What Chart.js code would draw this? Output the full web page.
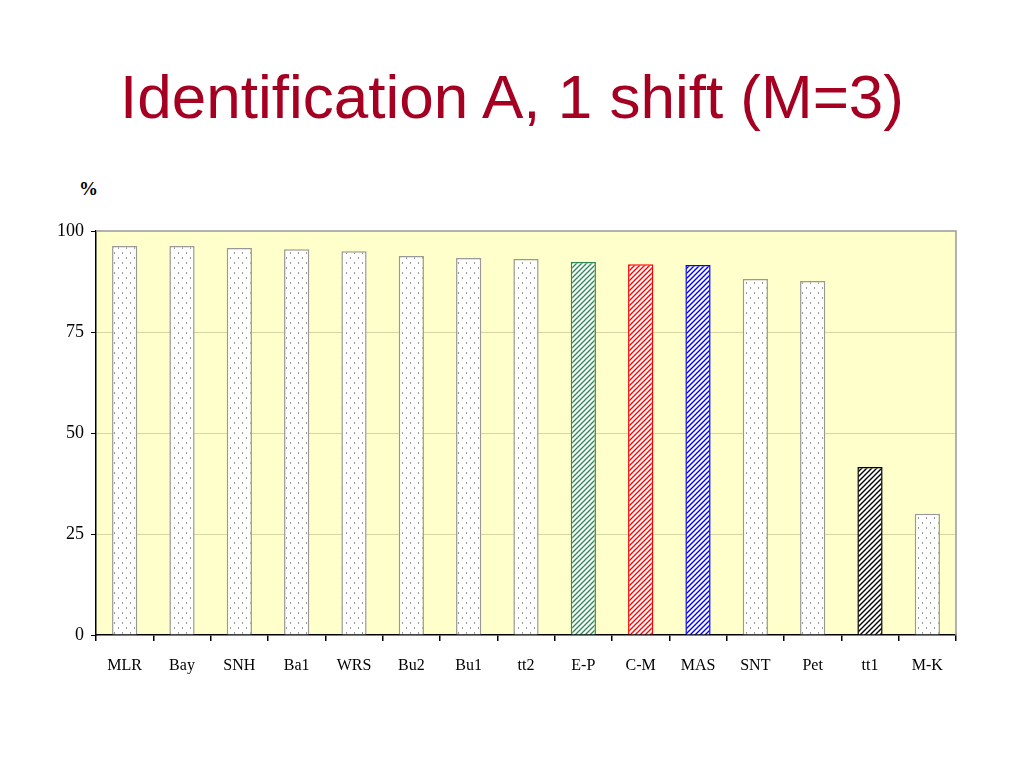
<!DOCTYPE html>
<html>
<head>
<meta charset="utf-8">
<script src="https://cdn.jsdelivr.net/npm/chart.js@4/dist/chart.umd.min.js"></script>
<style>
  body { margin: 0; background: #fff; }
  #wrap { position: relative; width: 1024px; height: 768px; }
  #title { position: absolute; left: 0; top: 66px; width: 1024px; text-align: center;
           font-family: "Liberation Sans", Arial, sans-serif; font-size: 62px; color: #A50021; line-height: 1; }
  #unit { position: absolute; left: 79px; top: 178px; font-family: "Liberation Serif", serif;
          font-size: 19px; font-weight: bold; color: #000; }
  canvas { position: absolute; left: 0; top: 0; }
</style>
</head>
<body>
<div id="wrap">
  <div id="title">Identification A, 1 shift (M=3)</div>
  <div id="unit">%</div>
  <canvas id="chart" width="1024" height="768"></canvas>
</div>
<script>
// Data
const categories = ['MLR', 'Bay', 'SNH', 'Ba1', 'WRS', 'Bu2', 'Bu1', 'tt2', 'E-P', 'C-M', 'MAS', 'SNT', 'Pet', 'tt1', 'M-K'];
const values = [96.3, 96.3, 95.8, 95.5, 95.0, 93.8, 93.3, 93.1, 92.3, 91.8, 91.6, 88.1, 87.6, 41.6, 30.0];
const yTicks = [0, 25, 50, 75, 100];

// Fill style for each bar: 'dots' or a hatch colour
const barStyles = ['dots', 'dots', 'dots', 'dots', 'dots', 'dots', 'dots', 'dots',
    '#2E8B57', '#FF0000', '#0000FF', 'dots', 'dots', '#000000', 'dots'];

// Dotted white fill
function dotPattern() {
    const c = document.createElement('canvas');
    c.width = 8; c.height = 10;
    const g = c.getContext('2d');
    g.fillStyle = '#fff';
    g.fillRect(0, 0, 8, 10);
    g.fillStyle = '#999';
    g.fillRect(2, 2, 1, 2);
    g.fillRect(6, 7, 1, 2);
    return g.createPattern(c, 'repeat');
}

// Diagonal hatch fill
function hatchPattern(color) {
    const c = document.createElement('canvas');
    c.width = 5; c.height = 5;
    const g = c.getContext('2d');
    g.fillStyle = '#fff';
    g.fillRect(0, 0, 5, 5);
    g.strokeStyle = color;
    g.lineWidth = 1.4;
    g.beginPath();
    g.moveTo(-1, 6); g.lineTo(6, -1);
    g.moveTo(-1, 1); g.lineTo(1, -1);
    g.moveTo(4, 6); g.lineTo(6, 4);
    g.stroke();
    return g.createPattern(c, 'repeat');
}

const fills = barStyles.map(s => s === 'dots' ? dotPattern() : hatchPattern(s));
const borders = barStyles.map(s => s === 'dots' ? '#999999' : s);

// Plot background and grey top/right frame
const plotFrame = {
    id: 'plotFrame',
    beforeDraw(chart) {
        const a = chart.chartArea;
        const ctx = chart.ctx;
        ctx.save();
        ctx.fillStyle = '#FFFFCC';
        ctx.fillRect(a.left, a.top, a.right - a.left, a.bottom - a.top);
        ctx.restore();
    },
    beforeDatasetsDraw(chart) {
        const a = chart.chartArea;
        const ctx = chart.ctx;
        ctx.save();
        ctx.strokeStyle = '#999';
        ctx.lineWidth = 1.5;
        ctx.beginPath();
        ctx.moveTo(a.left, a.top);
        ctx.lineTo(a.right, a.top);
        ctx.lineTo(a.right, a.bottom);
        ctx.stroke();
        ctx.restore();
    }
};

const serif = '"Liberation Serif", "Times New Roman", serif';

new Chart(document.getElementById('chart').getContext('2d'), {
    type: 'bar',
    data: {
        labels: categories,
        datasets: [{
            data: values,
            backgroundColor: fills,
            borderColor: borders,
            borderWidth: 1.5,
            barPercentage: 0.44,
            categoryPercentage: 1
        }]
    },
    options: {
        responsive: false,
        animation: false,
        layout: { padding: { left: 0, right: 68, top: 231, bottom: 0 } },
        plugins: { legend: { display: false }, tooltip: { enabled: false } },
        scales: {
            x: {
                grid: { offset: true, drawOnChartArea: false, color: '#000', tickLength: 6, lineWidth: 1.5 },
                border: { color: '#000', width: 1.5 },
                ticks: { color: '#000', font: { family: serif, size: 16 }, padding: 15, maxRotation: 0 },
                afterFit(scale) { scale.height = 133; }
            },
            y: {
                min: 0,
                max: 100,
                afterBuildTicks(scale) { scale.ticks = yTicks.map(v => ({ value: v })); },
                grid: {
                    color: ctx => (ctx.tick && (ctx.tick.value === 0 || ctx.tick.value === 100)) ? 'rgba(0,0,0,0)' : '#D6D6A0',
                    tickColor: '#000',
                    tickLength: 5,
                    lineWidth: 1
                },
                border: { color: '#000', width: 1.5 },
                ticks: { color: '#000', font: { family: serif, size: 18 }, padding: 7 },
                afterFit(scale) { scale.width = 96; }
            }
        }
    },
    plugins: [plotFrame]
});
</script>
</body>
</html>
